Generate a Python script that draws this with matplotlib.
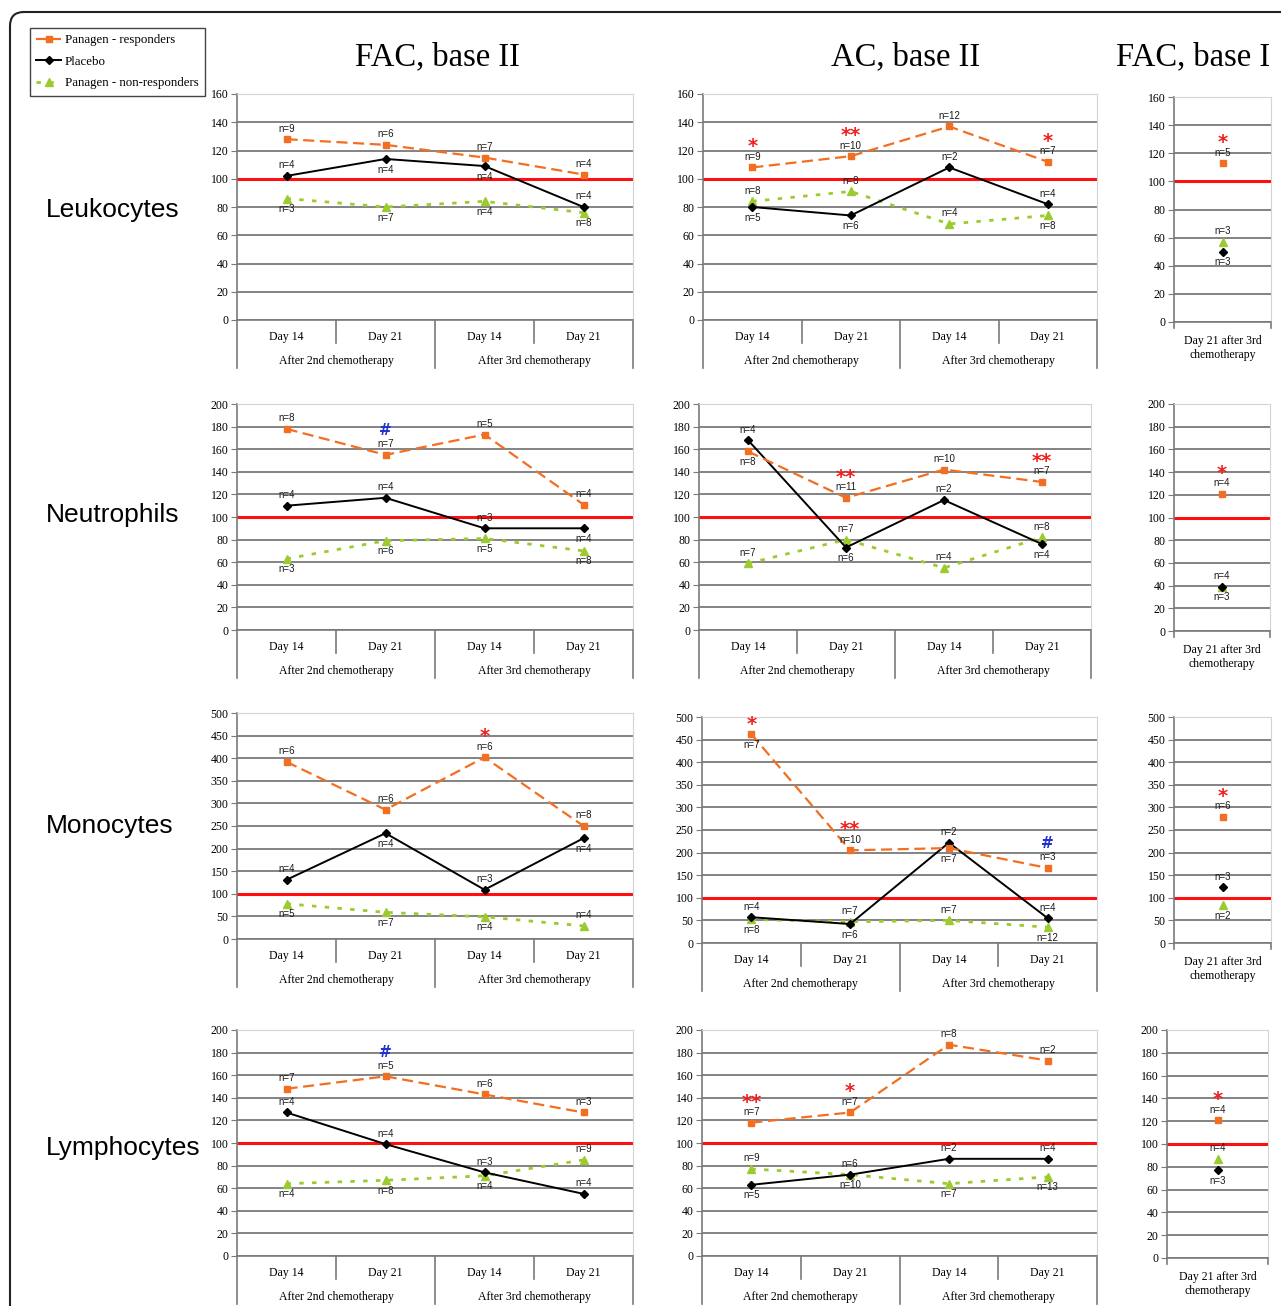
import numpy as np
import matplotlib.pyplot as plt
from matplotlib.lines import Line2D
from matplotlib.patches import FancyBboxPatch

W, H = 1281, 1306

days = ['Day 14', 'Day 21', 'Day 14', 'Day 21']
courses = ['After 2nd chemotherapy', 'After 3rd chemotherapy']
single_cat = 'Day 21 after 3rd\nchemotherapy'
col_titles = ['FAC, base II', 'AC, base II', 'FAC, base I']
row_names = ['Leukocytes', 'Neutrophils', 'Monocytes', 'Lymphocytes']
series_names = ['Panagen - responders', 'Placebo', 'Panagen - non-responders']

# each panel: [responders, placebo, non-responders], % of baseline
leu_fac2 = [[128, 124, 115, 103], [102, 114, 109, 80], [86, 80, 84, 76]]
leu_fac2_n = [[9, 6, 7, 4], [4, 4, 4, 4], [3, 7, 4, 8]]
leu_fac2_sig = ['', '', '', '']
leu_ac2 = [[108, 116, 137, 112], [80, 74, 108, 82], [84, 91, 68, 74]]
leu_ac2_n = [[9, 10, 12, 7], [5, 6, 2, 4], [8, 8, 4, 8]]
leu_ac2_sig = ['*', '**', '', '*']
leu_fac1 = [[113], [50], [57]]
leu_fac1_n = [[5], [3], [3]]
leu_fac1_sig = ['*']

neu_fac2 = [[178, 155, 173, 111], [110, 117, 90, 90], [63, 79, 81, 70]]
neu_fac2_n = [[8, 7, 5, 4], [4, 4, 3, 4], [3, 6, 5, 8]]
neu_fac2_sig = ['', '#', '', '']
neu_ac2 = [[158, 117, 142, 131], [168, 73, 115, 76], [59, 80, 55, 82]]
neu_ac2_n = [[8, 11, 10, 7], [4, 6, 2, 4], [7, 7, 4, 8]]
neu_ac2_sig = ['', '**', '', '**']
neu_fac1 = [[121], [39], [39]]
neu_fac1_n = [[4], [3], [4]]
neu_fac1_sig = ['*']

mono_fac2 = [[392, 286, 402, 250], [131, 234, 109, 223], [78, 59, 49, 29]]
mono_fac2_n = [[6, 6, 6, 8], [4, 4, 3, 4], [5, 7, 4, 4]]
mono_fac2_sig = ['', '', '*', '']
mono_ac2 = [[462, 205, 210, 166], [57, 42, 222, 55], [52, 47, 50, 35]]
mono_ac2_n = [[7, 10, 7, 3], [4, 6, 2, 4], [8, 7, 7, 12]]
mono_ac2_sig = ['*', '**', '', '#']
mono_fac1 = [[279], [123], [83]]
mono_fac1_n = [[6], [3], [2]]
mono_fac1_sig = ['*']

lym_fac2 = [[148, 159, 143, 127], [127, 99, 74, 55], [64, 67, 71, 85]]
lym_fac2_n = [[7, 5, 6, 3], [4, 4, 3, 4], [4, 8, 4, 9]]
lym_fac2_sig = ['', '#', '', '']
lym_ac2 = [[118, 127, 187, 173], [63, 72, 86, 86], [77, 72, 64, 70]]
lym_ac2_n = [[7, 7, 8, 2], [5, 10, 2, 4], [9, 6, 7, 13]]
lym_ac2_sig = ['**', '*', '', '']
lym_fac1 = [[121], [77], [87]]
lym_fac1_n = [[4], [3], [4]]
lym_fac1_sig = ['*']

# where each n label sits: a = above the marker, b = below
leu_fac2_pos = ['aaaa', 'abba', 'bbbb']
leu_ac2_pos = ['aaaa', 'bbaa', 'aaab']
neu_fac2_pos = ['aaaa', 'aaab', 'bbbb']
neu_ac2_pos = ['baaa', 'abab', 'aaaa']
mono_fac2_pos = ['aaaa', 'abab', 'bbba']
mono_ac2_pos = ['baba', 'abaa', 'baab']
lym_fac2_pos = ['aaaa', 'aaaa', 'bbba']
lym_ac2_pos = ['aaaa', 'bbaa', 'aabb']
fac1_pos = ['a', 'b', 'a']
mono_fac1_pos = ['a', 'a', 'b']

ORANGE = '#f26f21'
GREEN = '#9bcb2f'
styles = [
    dict(color=ORANGE, ls=(0, (5, 2.5)), lw=1.6, marker='s', ms=5),
    dict(color='black', ls='-', lw=1.4, marker='D', ms=4),
    dict(color=GREEN, ls=(0, (1.6, 3)), lw=2.0, marker='^', ms=6),
]
SERIF = 'Liberation Serif'
SANS = 'Liberation Sans'

fig = plt.figure(figsize=(W / 100, H / 100), dpi=100)
bg = fig.add_axes([0, 0, 1, 1], zorder=-5)
bg.set_xlim(0, W)
bg.set_ylim(H, 0)
bg.axis('off')
bg.add_patch(FancyBboxPatch((10, 12), 1320, 1340, boxstyle='round,pad=0,rounding_size=14',
                            fc='white', ec='#222222', lw=1.5))


def panel(rect, vals, ns, pos, sig, ymax, step):
    x0, yt, x1, yb = rect
    hpx = yb - yt
    ax = fig.add_axes([x0 / W, 1 - yb / H, (x1 - x0) / W, hpx / H])
    npts = len(vals[0])
    xs = np.arange(npts)
    ax.set_xlim(-0.5, npts - 0.5)
    ax.set_ylim(0, ymax)
    ax.set_yticks(np.arange(0, ymax + 1, step))
    ax.set_xticks([])
    ax.grid(axis='y', color='#7a7a7a', lw=1.3)
    ax.set_axisbelow(True)
    for s in ['top', 'right']:
        ax.spines[s].set_color('#d4d4d4')
    for s in ['left', 'bottom']:
        ax.spines[s].set_color('#7a7a7a')
        ax.spines[s].set_linewidth(1.2)
    ax.tick_params(axis='y', length=4, color='#7a7a7a', pad=2, labelsize=8.5)
    for lab in ax.get_yticklabels():
        lab.set_family(SERIF)
    ax.axhline(100, color='#ff1010', lw=2.2, zorder=2)

    for k in range(3):
        st = dict(styles[k])
        if npts == 1:
            st['ls'] = 'none'
        ax.plot(xs, vals[k], zorder=4 - k * 0.5 if k else 5, clip_on=False, **st)
        for i in range(npts):
            up = pos[k][i] == 'a'
            ax.annotate(f'n={ns[k][i]}', (xs[i], vals[k][i]), xytext=(0, 4 if up else -4),
                        textcoords='offset points', ha='center', va='bottom' if up else 'top',
                        fontsize=7, color='#1a1a1a', family=SANS, zorder=6)

    # significance marks over the responder points
    for i, m in enumerate(sig):
        if not m:
            continue
        up = pos[0][i] == 'a'
        if m == '#':
            ax.annotate(m, (xs[i], vals[0][i]), xytext=(0, 12 if up else 3),
                        textcoords='offset points', ha='center', va='bottom',
                        fontsize=11, fontweight='bold', color='#2233cc', family='DejaVu Sans')
        else:
            ax.annotate(m, (xs[i], vals[0][i]), xytext=(0, 8 if up else 0),
                        textcoords='offset points', ha='center', va='bottom',
                        fontsize=14, fontweight='bold', color='#ee2020', family='DejaVu Sans')

    tr = ax.get_xaxis_transform()
    fy = lambda px: -px / hpx
    if npts == 4:
        for xb in [-0.5, 1.5, 3.5]:
            ax.add_line(Line2D([xb, xb], [0, fy(48)], transform=tr, clip_on=False,
                               color='#7a7a7a', lw=1.2))
        for xb in [0.5, 2.5]:
            ax.add_line(Line2D([xb, xb], [0, fy(23)], transform=tr, clip_on=False,
                               color='#7a7a7a', lw=1.2))
        for i, d in enumerate(days):
            ax.text(i, fy(17), d, transform=tr, ha='center', va='center',
                    fontsize=8.5, family=SERIF)
        for j, c in enumerate(courses):
            ax.text(0.5 + 2 * j, fy(41), c, transform=tr, ha='center', va='center',
                    fontsize=8.5, family=SERIF)
    else:
        for xb in [-0.5, 0.5]:
            ax.add_line(Line2D([xb, xb], [0, fy(6)], transform=tr, clip_on=False,
                               color='#7a7a7a', lw=1.2))
        ax.text(0, fy(26), single_cat, transform=tr, ha='center', va='center',
                fontsize=8.5, family=SERIF, linespacing=1.3)
    return ax


rows = [
    (leu_fac2, leu_fac2_n, leu_fac2_pos, leu_fac2_sig,
     leu_ac2, leu_ac2_n, leu_ac2_pos, leu_ac2_sig,
     leu_fac1, leu_fac1_n, fac1_pos, leu_fac1_sig, 160, 20),
    (neu_fac2, neu_fac2_n, neu_fac2_pos, neu_fac2_sig,
     neu_ac2, neu_ac2_n, neu_ac2_pos, neu_ac2_sig,
     neu_fac1, neu_fac1_n, fac1_pos, neu_fac1_sig, 200, 20),
    (mono_fac2, mono_fac2_n, mono_fac2_pos, mono_fac2_sig,
     mono_ac2, mono_ac2_n, mono_ac2_pos, mono_ac2_sig,
     mono_fac1, mono_fac1_n, mono_fac1_pos, mono_fac1_sig, 500, 50),
    (lym_fac2, lym_fac2_n, lym_fac2_pos, lym_fac2_sig,
     lym_ac2, lym_ac2_n, lym_ac2_pos, lym_ac2_sig,
     lym_fac1, lym_fac1_n, fac1_pos, lym_fac1_sig, 200, 20),
]

# pixel boxes (left, top, right, bottom) for each row's three panels
boxes = [
    [(237, 94, 633, 320), (703, 94, 1097, 320), (1174, 97, 1271, 322)],
    [(237, 404, 633, 630), (699, 404, 1091, 630), (1174, 404, 1270, 631)],
    [(237, 713, 633, 939), (702, 717, 1097, 943), (1174, 717, 1271, 943)],
    [(237, 1030, 633, 1256), (702, 1030, 1097, 1256), (1167, 1030, 1268, 1258)],
]

for r, row in enumerate(rows):
    ymax, step = row[12], row[13]
    for c in range(3):
        v, n, p, s = row[4 * c:4 * c + 4]
        panel(boxes[r][c], v, n, p, s, ymax, step)

row_y = [210, 515, 826, 1148]
row_x = [113, 113, 110, 123]
for name, x, y in zip(row_names, row_x, row_y):
    bg.text(x, y, name, ha='center', va='center', fontsize=19, family=SANS)

for t, x in zip(col_titles, [437, 906, 1193]):
    bg.text(x, 57, t, ha='center', va='center', fontsize=23.5, family=SERIF)

handles = [Line2D([], [], **st) for st in styles]
fig.legend(handles, series_names, loc='upper left', bbox_to_anchor=(30 / W, 1 - 28 / H),
           prop={'family': SERIF, 'size': 9.3}, frameon=True, fancybox=False,
           edgecolor='#444444', framealpha=1, handlelength=1.9, borderaxespad=0,
           labelspacing=0.72, handletextpad=0.3, borderpad=0.5)

fig.savefig('out.png', dpi=100)
